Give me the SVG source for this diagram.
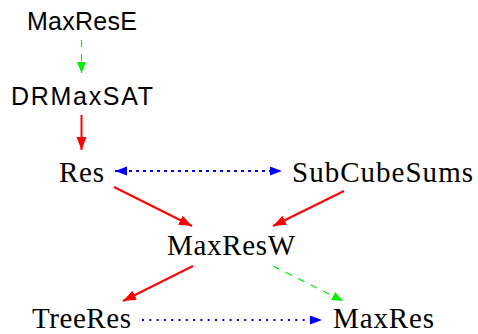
<svg xmlns="http://www.w3.org/2000/svg" width="478" height="334" viewBox="0 0 478 334">
  <style>
    .sans { font-family: "Liberation Sans", Arial, sans-serif; font-size: 25px; fill: #000; }
    .serif { font-family: "Liberation Serif", "Times New Roman", serif; font-size: 29px; fill: #000; }
    .red { stroke: #ff0000; stroke-width: 2; fill: none; }
    .green { stroke: #00ee00; stroke-width: 1.2; fill: none; stroke-dasharray: 7 7; }
    .blue { stroke: #0000ff; stroke-width: 2; fill: none; stroke-dasharray: 3 4; }
    .bluedot { stroke: #0000ff; stroke-width: 2; fill: none; stroke-dasharray: 2 5.3; }
  </style>
  <defs>
    <marker id="ah-red" markerUnits="userSpaceOnUse" markerWidth="14" markerHeight="12" refX="13" refY="5" orient="auto">
      <path d="M0,0 L13,5 L0,10 Z" fill="#ff0000"/>
    </marker>
    <marker id="ah-green" markerUnits="userSpaceOnUse" markerWidth="12" markerHeight="10" refX="11" refY="4.5" orient="auto">
      <path d="M0,0 L11,4.5 L0,9 Z" fill="#00ee00"/>
    </marker>
    <marker id="ah-blue" markerUnits="userSpaceOnUse" markerWidth="13" markerHeight="11" refX="12" refY="4.5" orient="auto-start-reverse">
      <path d="M0,0 L12,4.5 L0,9 Z" fill="#0000ff"/>
    </marker>
  </defs>

  <g id="connectors">
    <line class="green" x1="81.5" y1="40" x2="81.5" y2="73" marker-end="url(#ah-green)"/>
    <line class="red" x1="81.5" y1="115" x2="81.5" y2="150" marker-end="url(#ah-red)"/>
    <line class="blue" x1="115" y1="171" x2="282" y2="171" marker-start="url(#ah-blue)" marker-end="url(#ah-blue)"/>
    <line class="red" x1="114" y1="187" x2="192" y2="226" marker-end="url(#ah-red)"/>
    <line class="red" x1="344" y1="191" x2="273" y2="226" marker-end="url(#ah-red)"/>
    <line class="red" x1="193" y1="266" x2="123" y2="301" marker-end="url(#ah-red)"/>
    <line class="green" x1="273" y1="266" x2="343" y2="301" marker-end="url(#ah-green)"/>
    <line class="bluedot" x1="142" y1="320" x2="322" y2="320" marker-end="url(#ah-blue)"/>
  </g>

  <g id="MaxResE"><text class="sans" x="27" y="30" textLength="110">MaxResE</text></g>
  <g id="DRMaxSAT"><text class="sans" x="11" y="105" textLength="142">DRMaxSAT</text></g>
  <g id="Res"><text class="serif" x="59" y="182" textLength="45">Res</text></g>
  <g id="SubCubeSums"><text class="serif" x="292" y="182" textLength="181">SubCubeSums</text></g>
  <g id="MaxResW"><text class="serif" x="167" y="255" textLength="128">MaxResW</text></g>
  <g id="TreeRes"><text class="serif" x="32" y="327.5" textLength="99">TreeRes</text></g>
  <g id="MaxRes"><text class="serif" x="333" y="327.5" textLength="101">MaxRes</text></g>
</svg>
